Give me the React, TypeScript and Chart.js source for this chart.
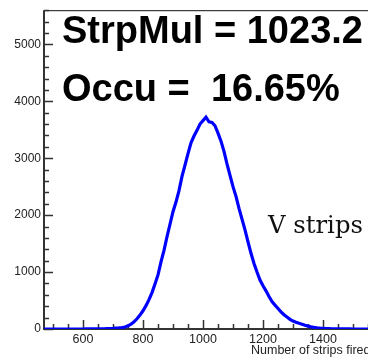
import { useEffect, useRef } from 'react';
import { Chart, registerables } from 'chart.js';

Chart.register(...registerables);

// ---- data ----
const binCenters = [
  470, 480, 490, 500, 510, 520, 530, 540, 550, 560, 570, 580, 590, 600, 610, 620, 630, 640,
  650, 660, 670, 680, 690, 700, 710, 720, 730, 740, 750, 760, 770, 780, 790, 800,
  810, 820, 830, 840, 850, 860, 870, 880, 890, 900, 910, 920, 930, 940, 950, 960,
  970, 980, 990, 1000, 1010, 1020, 1030, 1040, 1050, 1060, 1070, 1080, 1090, 1100,
  1110, 1120, 1130, 1140, 1150, 1160, 1170, 1180, 1190, 1200, 1210, 1220, 1230, 1240,
  1250, 1260, 1270, 1280, 1290, 1300, 1310, 1320, 1330, 1340, 1350, 1360, 1370, 1380,
  1390, 1400, 1410, 1420, 1430, 1440, 1450, 1460, 1470, 1480, 1490, 1500, 1520, 1540,
  1560, 1580, 1600, 1620, 1640, 1660, 1680, 1700,
];
const counts = [
  0, 0, 0, 0, 0, 0, 0, 0, 0, 0, 0, 0, 0, 0, 1, 1, 1, 2,
  2, 3, 4, 6, 8, 10, 14, 19, 26, 36, 55, 85, 125, 180, 245, 320,
  410, 515, 640, 790, 950, 1180, 1380, 1620, 1840, 2060, 2230, 2430, 2680, 2880, 3080, 3270,
  3390, 3490, 3600, 3660, 3720, 3640, 3630, 3570, 3440, 3300, 3120, 2900, 2700, 2500,
  2330, 2120, 1930, 1740, 1530, 1330, 1150, 1000, 860, 760, 670, 570, 480, 420,
  360, 300, 250, 210, 170, 140, 118, 100, 85, 65, 50, 38, 28, 20,
  14, 10, 7, 5, 4, 3, 2, 2, 1, 1, 1, 0, 0, 0,
  0, 0, 0, 0, 0, 0, 0, 0,
];
const xTickValues = [600, 800, 1000, 1200, 1400, 1600];
const yTickValues = [0, 1000, 2000, 3000, 4000, 5000];
const xMinorStep = 50;
const yMinorStep = 200;
const statLine1 = 'StrpMul = 1023.2';
const statLine2 = 'Occu =  16.65%';
const planeLabel = 'V strips';
const xAxisTitle = 'Number of strips fired';

const CANVAS_W = 440;
const CANVAS_H = 357;

const framePlugin = {
  id: 'rootFrame',
  beforeDatasetsDraw(chart: any) {
    const { ctx, chartArea: a, scales } = chart;
    const x = scales.x;
    const y = scales.y;
    ctx.save();
    // top & right frame
    ctx.strokeStyle = '#111';
    ctx.lineWidth = 1;
    ctx.beginPath();
    ctx.moveTo(a.left, a.top + 0.5);
    ctx.lineTo(a.right, a.top + 0.5);
    ctx.lineTo(a.right, a.bottom);
    ctx.stroke();
    // ticks
    ctx.strokeStyle = '#333';
    ctx.lineWidth = 1.5;
    ctx.beginPath();
    const xStart = Math.ceil(x.min / xMinorStep) * xMinorStep;
    for (let v = xStart; v <= x.max; v += xMinorStep) {
      const px = Math.round(x.getPixelForValue(v)) + 0.5;
      const len = v % 200 === 0 ? 9 : 5;
      ctx.moveTo(px, a.bottom);
      ctx.lineTo(px, a.bottom - len);
    }
    for (let v = 0; v <= y.max; v += yMinorStep) {
      const py = Math.round(y.getPixelForValue(v)) + 0.5;
      const len = v % 1000 === 0 ? 9 : 5;
      ctx.moveTo(a.left, py);
      ctx.lineTo(a.left + len, py);
    }
    ctx.stroke();
    // axes
    ctx.strokeStyle = '#333';
    ctx.lineWidth = 2;
    ctx.beginPath();
    ctx.moveTo(a.left, a.top);
    ctx.lineTo(a.left, a.bottom);
    ctx.lineTo(a.right, a.bottom);
    ctx.stroke();
    ctx.restore();
  },
  afterDraw(chart: any) {
    const { ctx, chartArea: a } = chart;
    ctx.save();
    ctx.fillStyle = '#000';
    ctx.textBaseline = 'alphabetic';
    ctx.textAlign = 'left';
    ctx.font = 'bold 38px "Liberation Sans", Arial, sans-serif';
    ctx.fillText(statLine1, a.left + 18, 43);
    ctx.fillText(statLine2, a.left + 18, 100.5);
    ctx.font = '24.3px "DejaVu Serif", serif';
    ctx.fillStyle = '#111';
    ctx.fillText(planeLabel, a.left + 224, 232.5);
    ctx.font = '12.5px "Liberation Sans", Arial, sans-serif';
    ctx.fillStyle = '#222';
    ctx.fillText(xAxisTitle, a.left + 207, 354);
    ctx.restore();
  },
};

export default function App() {
  const ref = useRef<HTMLCanvasElement | null>(null);

  useEffect(() => {
    if (!ref.current) return;
    const points = binCenters.map((b, i) => ({ x: b, y: counts[i] }));
    const chart = new Chart(ref.current, {
      type: 'line',
      data: {
        datasets: [
          {
            data: points,
            borderColor: '#0000ff',
            borderWidth: 3.2,
            pointRadius: 0,
            tension: 0,
            fill: false,
          },
        ],
      },
      options: {
        animation: false,
        responsive: false,
        events: [],
        layout: { padding: { top: 6, right: 27, left: 0, bottom: 0 } },
        plugins: { legend: { display: false }, tooltip: { enabled: false }, title: { display: false } },
        scales: {
          x: {
            type: 'linear',
            min: 470,
            max: 1700,
            grid: { display: false, drawTicks: false },
            border: { display: false },
            afterBuildTicks: (s: any) => {
              s.ticks = xTickValues.map((value) => ({ value }));
            },
            afterFit: (s: any) => {
              s.height = 28;
            },
            ticks: {
              autoSkip: false,
              maxRotation: 0,
              padding: 3,
              color: '#222',
              callback: (v: any) => String(v),
              font: { family: '"Liberation Sans", Arial, sans-serif', size: 12.5 },
            },
          },
          y: {
            type: 'linear',
            min: 0,
            max: 5600,
            grid: { display: false, drawTicks: false },
            border: { display: false },
            afterBuildTicks: (s: any) => {
              s.ticks = yTickValues.map((value) => ({ value }));
            },
            afterFit: (s: any) => {
              s.width = 44;
            },
            ticks: {
              autoSkip: false,
              padding: 3,
              color: '#222',
              callback: (v: any) => String(v),
              font: { family: '"Liberation Sans", Arial, sans-serif', size: 12 },
            },
          },
        },
      },
      plugins: [framePlugin],
    });
    return () => chart.destroy();
  }, []);

  return (
    <div
      style={{
        position: 'absolute',
        left: 0,
        top: 0,
        width: 368,
        height: 357,
        overflow: 'hidden',
        background: '#fff',
      }}
    >
      <canvas ref={ref} width={CANVAS_W} height={CANVAS_H} style={{ display: 'block' }} />
    </div>
  );
}
